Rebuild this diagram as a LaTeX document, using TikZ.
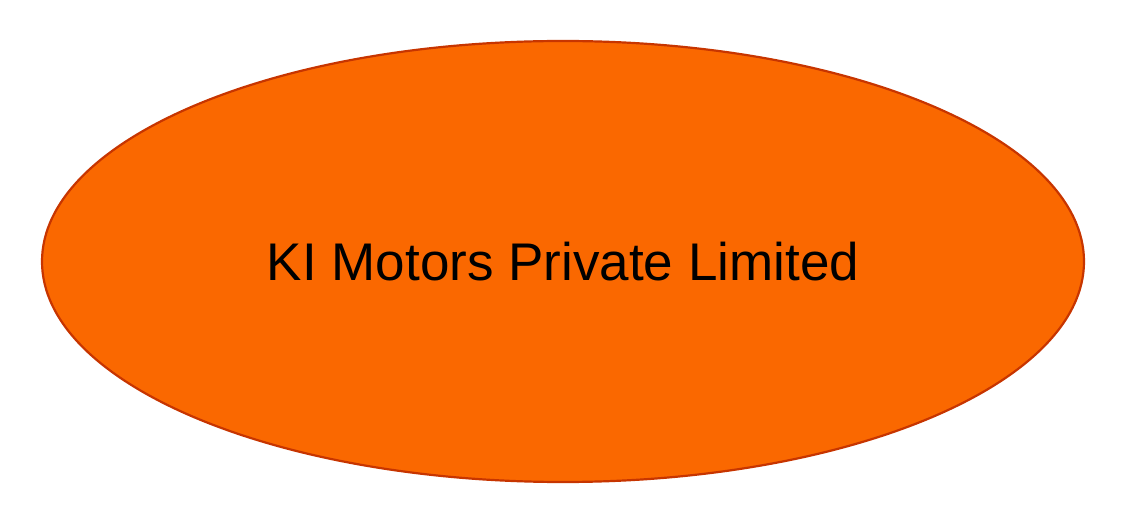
\documentclass[tikz,border=0pt]{standalone}
\usepackage{fontspec}
\setmainfont{Liberation Sans}
\definecolor{ofill}{HTML}{FA6800}
\definecolor{ostroke}{HTML}{C73500}
\begin{document}
\begin{tikzpicture}[x=1pt,y=1pt,
  blob/.style={ellipse, fill=ofill, draw=ostroke, line width=2.2pt,
     minimum width=1042pt, minimum height=441pt, inner sep=0pt,
     font=\fontsize{53}{60}\selectfont, text=black}]
\usetikzlibrary{shapes.geometric}
\useasboundingbox (0,0) rectangle (1128,528);
\node[blob] (company) at (563,266.5) {KI Motors Private Limited};
\end{tikzpicture}
\end{document}
